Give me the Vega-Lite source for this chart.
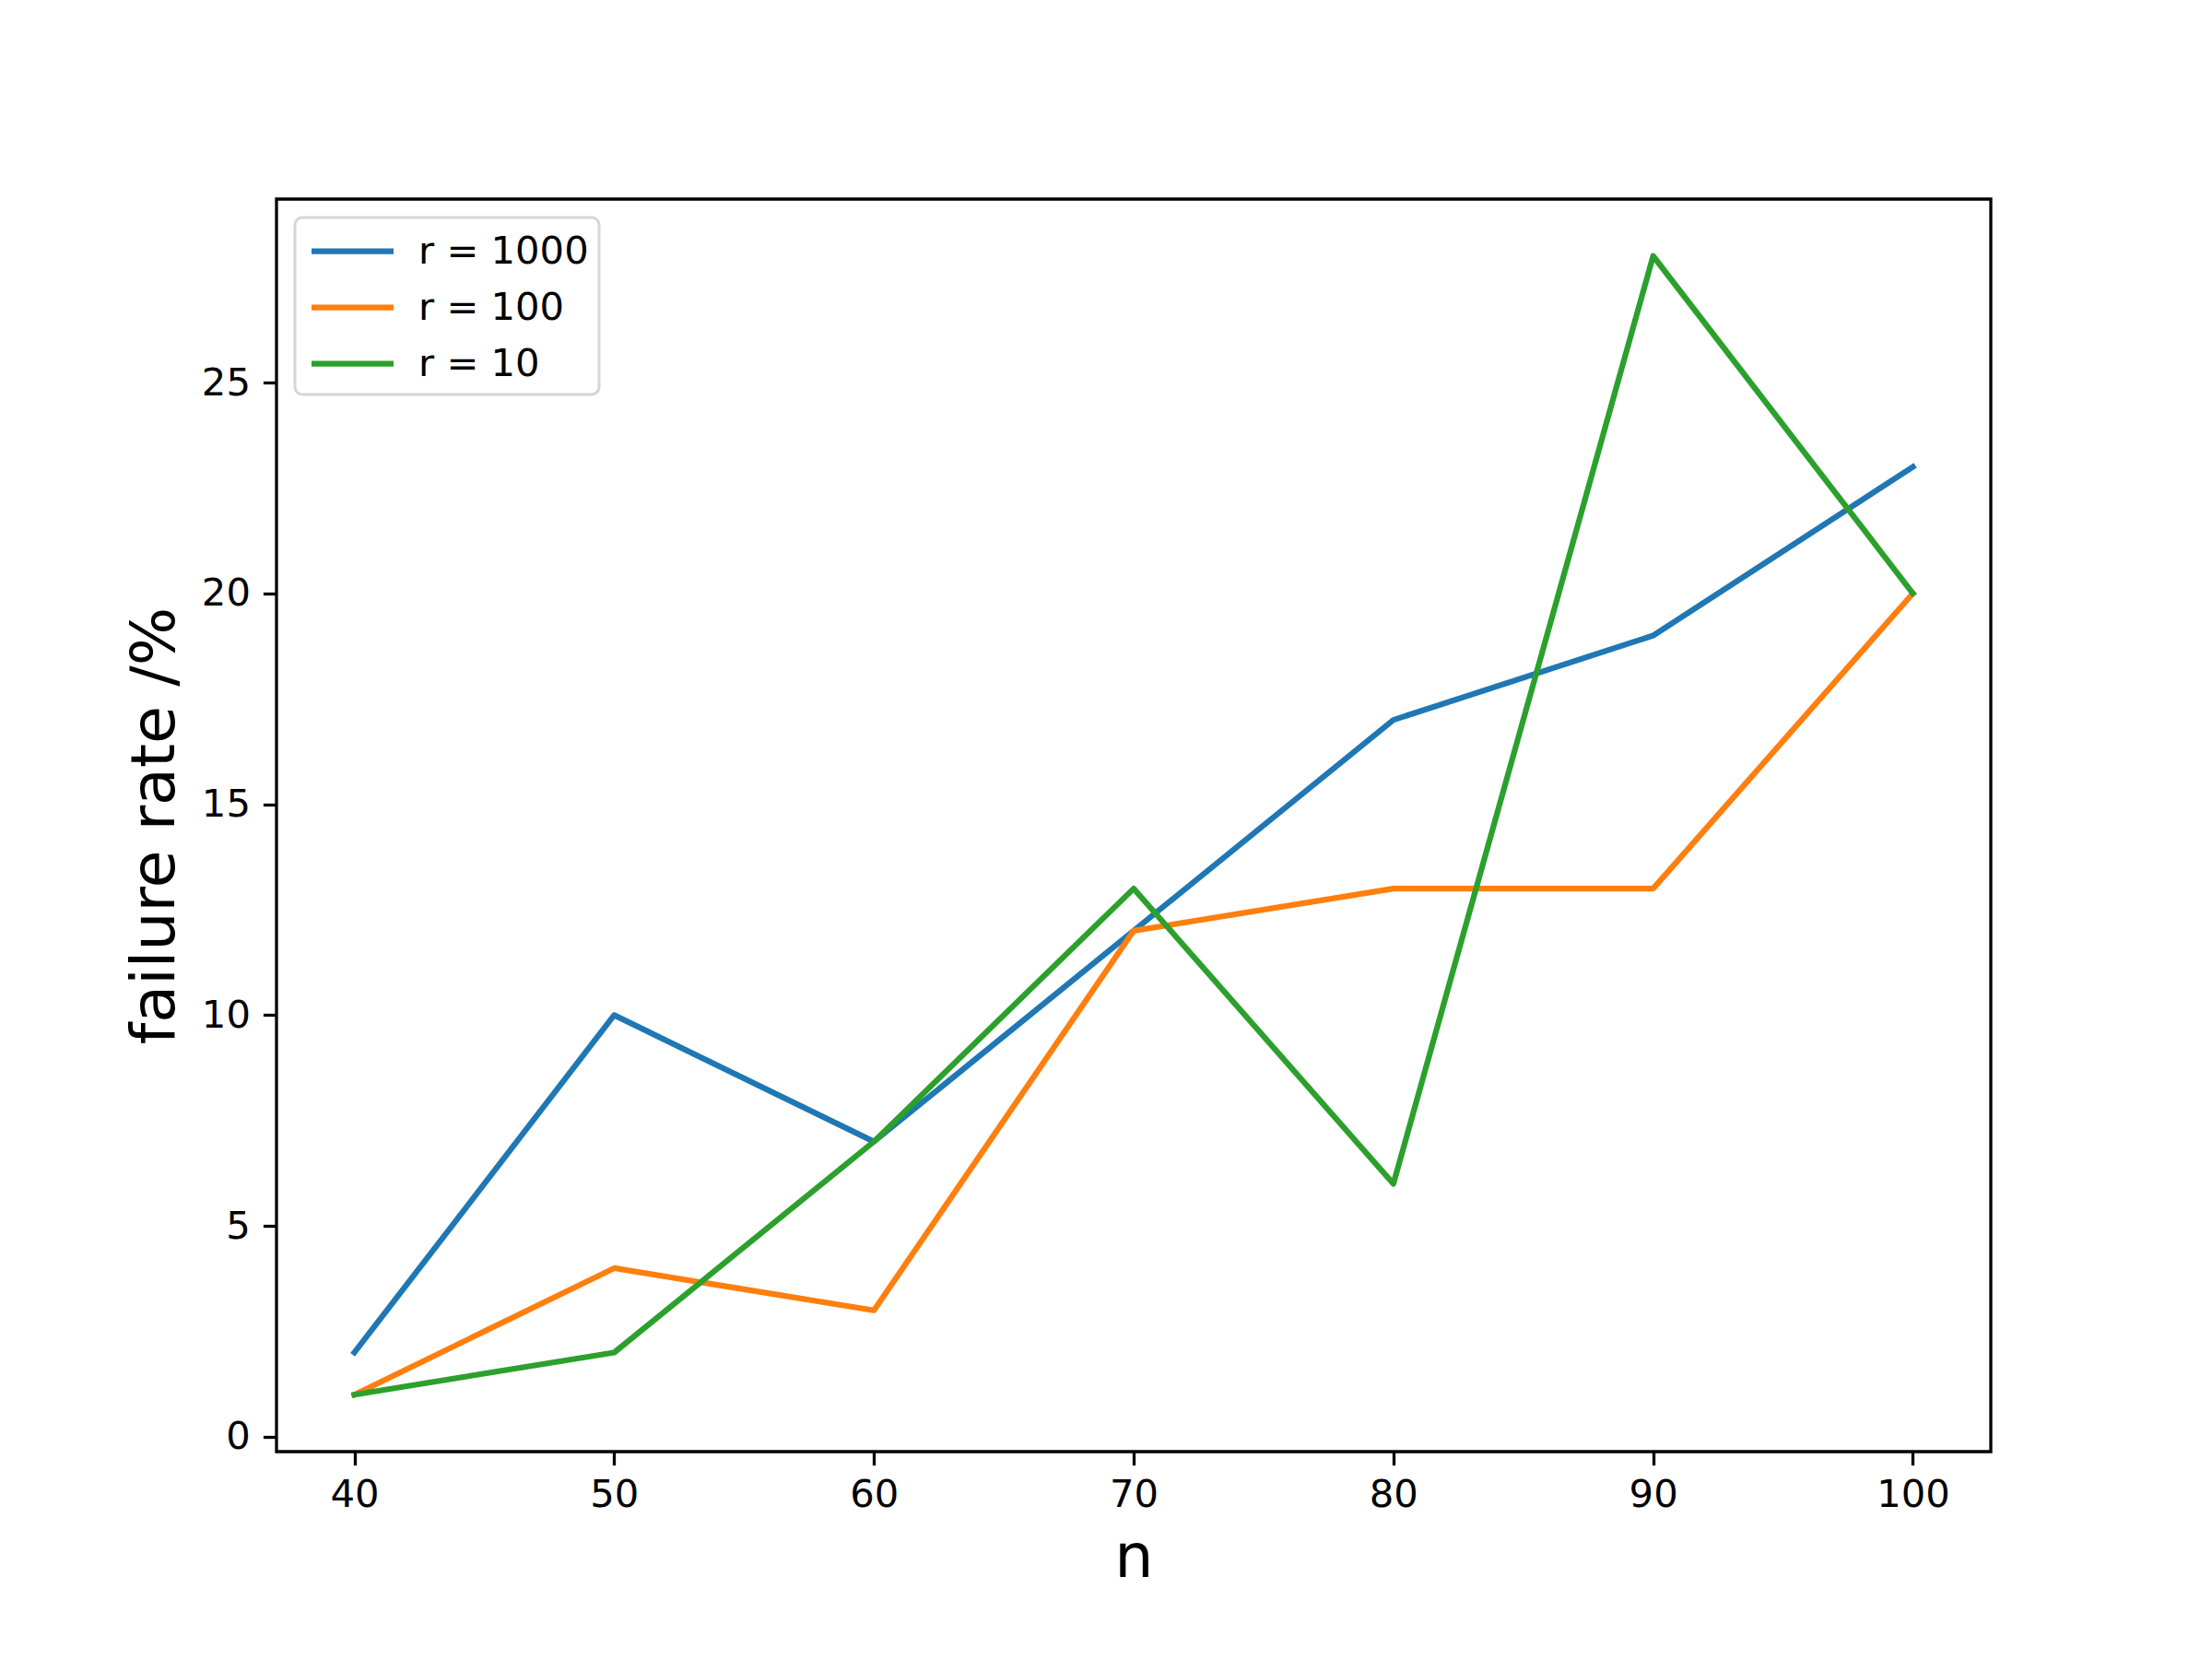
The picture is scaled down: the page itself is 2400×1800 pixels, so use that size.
{
  "$schema": "https://vega.github.io/schema/vega-lite/v6.json",
  "autosize": "none",
  "width": 1860,
  "height": 1359,
  "padding": {"left": 300, "top": 216, "right": 240, "bottom": 225},
  "background": "white",
  "config": {
    "font": "DejaVu Sans",
    "view": {"stroke": "black", "strokeWidth": 3.3},
    "axis": {
      "domain": false,
      "grid": false,
      "tickColor": "black",
      "tickWidth": 3.3,
      "tickSize": 14.6,
      "labelFont": "DejaVu Sans",
      "labelFontSize": 41.7,
      "labelColor": "black",
      "titleFont": "DejaVu Sans",
      "titleFontSize": 66.7,
      "titleFontWeight": "normal",
      "titleColor": "black"
    },
    "legend": {
      "orient": "top-left",
      "offset": 20,
      "padding": 11,
      "strokeColor": "#d6d6d6",
      "strokeWidth": 3,
      "fillColor": "white",
      "cornerRadius": 8,
      "labelFont": "DejaVu Sans",
      "labelFontSize": 41.7,
      "labelColor": "black",
      "labelOffset": 46,
      "labelLimit": 0,
      "symbolType": "M-2,0H2",
      "symbolSize": 1980,
      "symbolStrokeWidth": 6.25,
      "symbolOffset": 26,
      "rowPadding": 13,
      "title": null
    }
  },
  "data": {
    "values": [
      {"n": 40, "rate": 2, "r": "r = 1000"},
      {"n": 50, "rate": 10, "r": "r = 1000"},
      {"n": 60, "rate": 7, "r": "r = 1000"},
      {"n": 70, "rate": 12, "r": "r = 1000"},
      {"n": 80, "rate": 17, "r": "r = 1000"},
      {"n": 90, "rate": 19, "r": "r = 1000"},
      {"n": 100, "rate": 23, "r": "r = 1000"},
      {"n": 40, "rate": 1, "r": "r = 100"},
      {"n": 50, "rate": 4, "r": "r = 100"},
      {"n": 60, "rate": 3, "r": "r = 100"},
      {"n": 70, "rate": 12, "r": "r = 100"},
      {"n": 80, "rate": 13, "r": "r = 100"},
      {"n": 90, "rate": 13, "r": "r = 100"},
      {"n": 100, "rate": 20, "r": "r = 100"},
      {"n": 40, "rate": 1, "r": "r = 10"},
      {"n": 50, "rate": 2, "r": "r = 10"},
      {"n": 60, "rate": 7, "r": "r = 10"},
      {"n": 70, "rate": 13, "r": "r = 10"},
      {"n": 80, "rate": 6, "r": "r = 10"},
      {"n": 90, "rate": 28, "r": "r = 10"},
      {"n": 100, "rate": 20, "r": "r = 10"}
    ]
  },
  "mark": {"type": "line", "strokeWidth": 6.25, "strokeCap": "square", "strokeJoin": "round"},
  "encoding": {
    "x": {
      "field": "n",
      "type": "quantitative",
      "scale": {"domain": [37, 103], "nice": false, "zero": false},
      "axis": {"values": [40, 50, 60, 70, 80, 90, 100], "title": "n", "labelPadding": 12, "titlePadding": 14, "labelFlush": false}
    },
    "y": {
      "field": "rate",
      "type": "quantitative",
      "scale": {"domain": [-0.35, 29.35], "nice": false, "zero": false},
      "axis": {"values": [0, 5, 10, 15, 20, 25], "title": "failure rate /%", "labelPadding": 14, "titlePadding": 16, "labelFlush": false}
    },
    "color": {
      "field": "r",
      "type": "nominal",
      "sort": null,
      "scale": {"domain": ["r = 1000", "r = 100", "r = 10"], "range": ["#1f77b4", "#ff7f0e", "#2ca02c"]},
      "legend": {"title": null}
    }
  }
}
